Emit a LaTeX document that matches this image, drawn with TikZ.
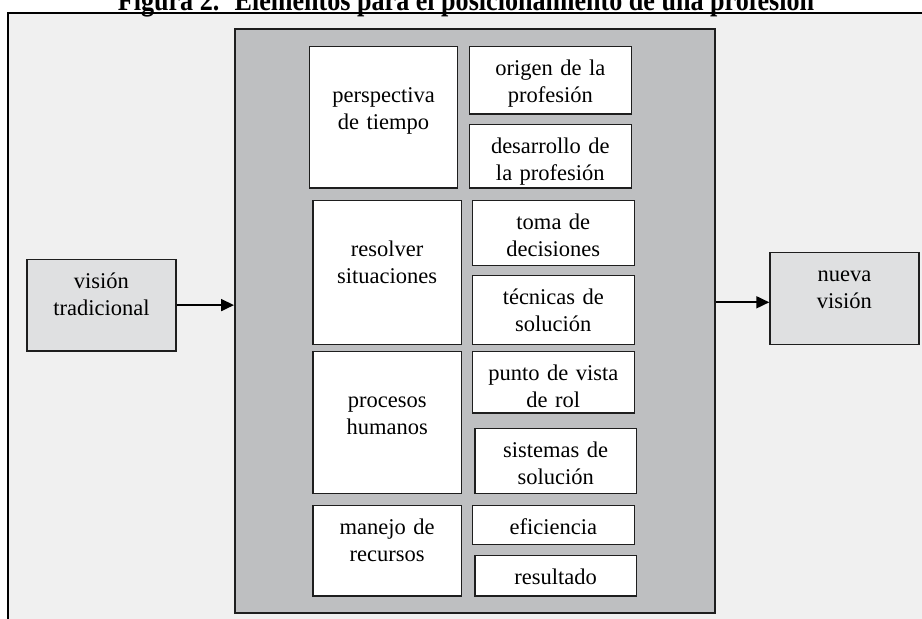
\documentclass[tikz,border=0pt]{standalone}
\usepackage{fontspec}
\setmainfont{Liberation Serif}
\usetikzlibrary{arrows.meta, positioning}
\definecolor{framebg}{HTML}{F0F0F0}
\definecolor{panelgray}{HTML}{BEBFC1}
\definecolor{visgray}{HTML}{DFE0E1}
\definecolor{edge}{HTML}{1E1E1E}
\tikzset{%
	cell/.style={
		draw=edge,
		fill=white,
		line width=1.2pt,
		anchor=north west,
		inner sep=0pt,
		align=center,
		text height=29pt
	},
	leftcell/.style={cell, text width=148.5pt},
	rightcell/.style={cell, text width=161.5pt},
	tall/.style={text height=56pt},
	vision/.style={cell, fill=visgray, text width=149pt},
	panel/.style={
		draw=edge,
		fill=panelgray,
		line width=1.6pt,
		anchor=north west,
		inner sep=0pt,
		minimum width=480pt,
		minimum height=584pt
	},
	flow/.style={-{Triangle[length=13pt,width=12pt]}, line width=1.8pt},
}

\begin{document}
\begin{tikzpicture}[x=1pt, y=-1pt, font=\fontsize{22.5}{27}\selectfont]
			\useasboundingbox (0,0) rectangle (922,619);
			\fill[framebg] (8,12.7) rectangle (922,619);
			\draw[line width=1.8pt] (8,619) -- (8,12.7) -- (922,12.7);
			\node[anchor=base, xscale=0.87, font=\bfseries\fontsize{30}{34}\selectfont] (title) at (466,10.5) {Figura 2.~ Elementos para el posicionamiento de una profesión};
			
			\node[panel] (panel) at (234,28) {};
			
			\node[leftcell, tall, text depth=85.6pt] (tiempo) at (308.7,45.7) {perspectiva\\de tiempo};
			\node[rightcell, text depth=38.6pt] (origen) at (469,45.7) {origen de la\\profesión};
			\node[rightcell, text depth=34.6pt] (desarrollo) at (469,123.7) {desarrollo de\\la profesión};
			
			\node[leftcell, tall, text depth=87.7pt] (resolver) at (312.3,200) {resolver\\situaciones};
			\node[rightcell, text depth=36pt] (toma) at (472,200) {toma de\\decisiones};
			\node[rightcell, text depth=39.7pt] (tecnicas) at (472,275) {técnicas de\\solución};
			
			\node[leftcell, tall, text depth=86pt] (procesos) at (312.3,350.7) {procesos\\humanos};
			\node[rightcell, text depth=32.6pt] (punto) at (472,350.7) {punto de vista\\de rol};
			\node[rightcell, text depth=35.7pt] (sistemas) at (474.3,428) {sistemas de\\solución};
			
			\node[leftcell, text depth=61.6pt] (manejo) at (312.3,504.7) {manejo de\\recursos};
			\node[rightcell, text depth=10.3pt] (eficiencia) at (472,504.7) {eficiencia};
			\node[rightcell, text depth=11.6pt] (resultado) at (474.3,554.7) {resultado};
			
			\node[vision, text depth=62.6pt] (trad) at (26.3,258.7) {visión\\tradicional};
			\node[vision, text depth=63pt] (nueva) at (769.3,251.7) {nueva\\visión};
			
			\draw[flow] (trad.east) -- (trad.east -| panel.west);
			\draw[flow] ([yshift=-4pt]nueva.west -| panel.east) -- ([yshift=-4pt]nueva.west);
			
		\end{tikzpicture}
\end{document}
